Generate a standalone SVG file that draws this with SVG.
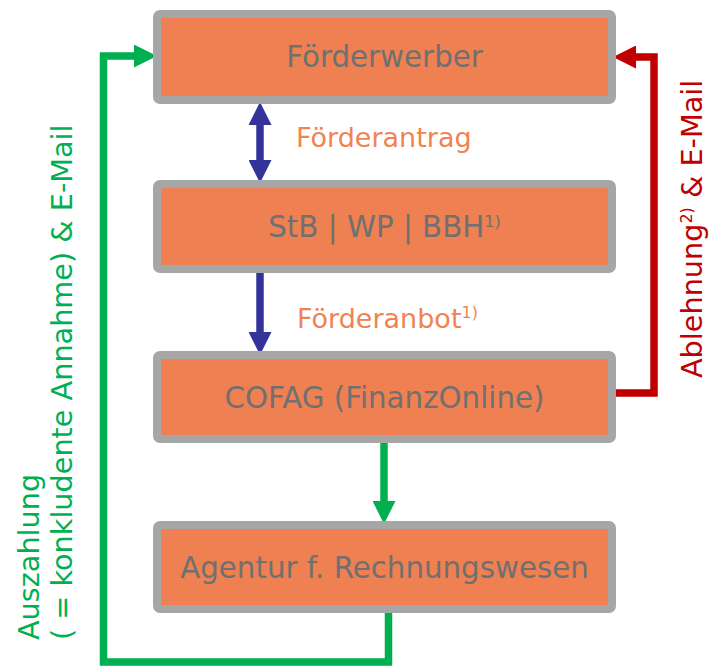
<svg xmlns="http://www.w3.org/2000/svg" width="711" height="668" viewBox="0 0 711 668">
<style>
.box{fill:#EE8051;stroke:#A6A6A6;stroke-width:8}
.bt{font-family:"DejaVu Sans",Verdana,sans-serif;font-size:29.3px;fill:#707070;text-anchor:middle}
.lbl{font-family:"DejaVu Sans",Verdana,sans-serif;font-size:27px;fill:#F08352}
.sup{font-size:16px}
.vt{font-family:"DejaVu Sans",Verdana,sans-serif;font-size:28.7px}
.c{fill:none;stroke-width:7.5;stroke-linejoin:miter;stroke-linecap:butt}
</style>
<defs>
<marker id="hb" markerUnits="userSpaceOnUse" markerWidth="23" markerHeight="23" refX="0" refY="11.5" orient="auto-start-reverse"><path d="M0,0 L23,11.5 L0,23 z" fill="#333399"/></marker>
<marker id="hg" markerUnits="userSpaceOnUse" markerWidth="23" markerHeight="23" refX="0" refY="11.5" orient="auto"><path d="M0,0 L23,11.5 L0,23 z" fill="#00B050"/></marker>
<marker id="hr" markerUnits="userSpaceOnUse" markerWidth="23" markerHeight="23" refX="0" refY="11.5" orient="auto"><path d="M0,0 L23,11.5 L0,23 z" fill="#C00000"/></marker>
</defs>
<g id="connectors">
<path class="c" stroke="#333399" d="M260,125 L260,160" marker-start="url(#hb)" marker-end="url(#hb)"/>
<path class="c" stroke="#333399" d="M260,273 L260,332" marker-end="url(#hb)"/>
<path class="c" stroke="#00B050" d="M384,443 L384,501" marker-end="url(#hg)"/>
<path class="c" stroke="#00B050" d="M388.5,613 L388.5,662 L103.5,662 L103.5,56 L134,56" marker-end="url(#hg)"/>
<path class="c" stroke="#C00000" d="M616,393 L654,393 L654,57 L636,57" marker-end="url(#hr)"/>
<text class="lbl" x="296" y="147">Förderantrag</text>
<text class="lbl" x="297" y="328">Förderanbot<tspan class="sup" dy="-10">1)</tspan></text>
<text class="vt" fill="#00B050" transform="translate(39,640) rotate(-90)">Auszahlung</text>
<text class="vt" fill="#00B050" transform="translate(72,640) rotate(-90)">( = konkludente Annahme) &amp; E-Mail</text>
<text class="vt" fill="#C00000" font-size="29.3" transform="translate(702,378) rotate(-90)">Ablehnung<tspan class="sup" dy="-10">2)</tspan><tspan dy="10"> &amp; E-Mail</tspan></text>
</g>
<g id="n1"><rect class="box" x="157" y="14" width="455" height="86" rx="3"/><text class="bt" x="384.5" y="67">Förderwerber</text></g>
<g id="n2"><rect class="box" x="157" y="184" width="455" height="85" rx="3"/><text class="bt" x="384.5" y="237">StB | WP | BBH<tspan class="sup" dy="-10">1)</tspan></text></g>
<g id="n3"><rect class="box" x="157" y="355" width="455" height="84" rx="3"/><text class="bt" x="384.5" y="408">COFAG (FinanzOnline)</text></g>
<g id="n4"><rect class="box" x="157" y="525" width="455" height="84" rx="3"/><text class="bt" x="384.5" y="578">Agentur f. Rechnungswesen</text></g>
</svg>
